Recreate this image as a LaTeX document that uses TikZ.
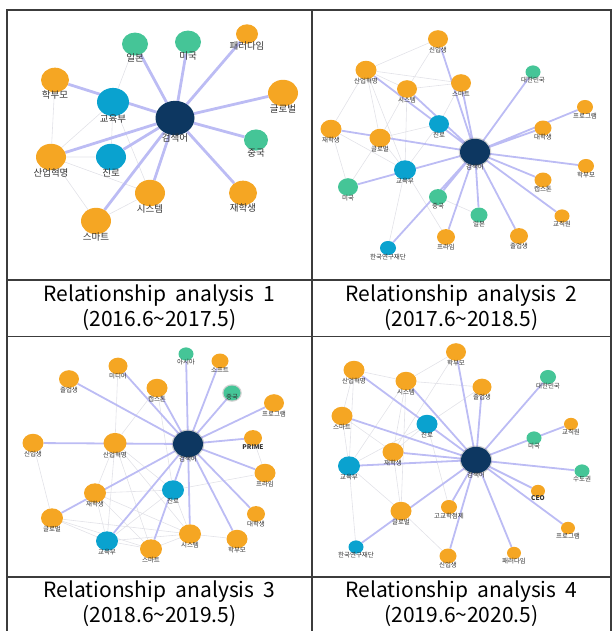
\documentclass[tikz,border=0pt]{standalone}
\usepackage{fontspec}
\setmainfont{Noto Sans CJK KR}
\usetikzlibrary{shapes.geometric,backgrounds}
\definecolor{kworange}{HTML}{F5A623}
\definecolor{kwgreen}{HTML}{45C597}
\definecolor{kwblue}{HTML}{0AA2CF}
\definecolor{kwnavy}{HTML}{0D3761}
\definecolor{edgehi}{HTML}{BCBCF4}
\definecolor{edgelo}{HTML}{E2E2E8}
\definecolor{gridline}{HTML}{3C3C3C}
\begin{document}
\begin{tikzpicture}[x=1pt,y=-1pt,
		kw/.style={ellipse,minimum width=#1,minimum height={0.88*#1},inner sep=0pt},
		okw/.style={kw=#1,fill=kworange},
		gkw/.style={kw=#1,fill=kwgreen},
		bkw/.style={kw=#1,fill=kwblue},
		hub/.style={kw=#1,fill=kwnavy},
		glow/.style={preaction={draw=black,line width=2.5pt,opacity=0.18}},
		strong/.style={draw=edgehi,line width=1.8pt},
		weak/.style={draw=edgelo,line width=0.6pt},
		label distance=-1.5pt,
		every label/.style={inner sep=0pt,text=black!80,font=\fontsize{6.5}{7}\selectfont},
		caption/.style={align=center,font=\fontsize{21}{25}\selectfont}]
		\useasboundingbox (0,0) rectangle (612,631);
		% table
		\draw[gridline,line width=1.1pt] (7,631)--(7,10)--(611,10)--(611,631);
		\draw[gridline,line width=1.1pt] (312,10)--(312,631);
		\draw[gridline,line width=1.1pt] (7,280)--(611,280) (7,336.5)--(611,336.5) (7,577)--(611,577);
		\node[caption] (cap1) at (159.5,308) {Relationship\ \ analysis\ \ 1\\(2016.6\textasciitilde 2017.5)};
		\node[caption] (cap2) at (461.5,308) {Relationship\ \ analysis\ \ 2\\(2017.6\textasciitilde 2018.5)};
		\node[caption] (cap3) at (159.5,604) {Relationship\ \ analysis\ \ 3\\(2018.6\textasciitilde 2019.5)};
		\node[caption] (cap4) at (461.5,604) {Relationship\ \ analysis\ \ 4\\(2019.6\textasciitilde 2020.5)};
		% 1
		\begin{scope}[every label/.append style={font=\fontsize{9.5}{10}\selectfont},label distance=-2pt]
		\node[hub=39,label=below:검색어] (p1hub) at (175,118) {};
		\node[gkw=26,label=below:일본] (p1japan) at (135,44) {};
		\node[gkw=26,label=below:미국] (p1usa) at (188,42) {};
		\node[okw=22,label=below:패러다임] (p1paradigm) at (247,34) {};
		\node[okw=28,label=below:학부모] (p1parents) at (55,80) {};
		\node[bkw=32,label=below:교육부] (p1moe) at (113,102) {};
		\node[okw=30,label=below:글로벌] (p1global) at (283,93) {};
		\node[gkw=24,label=below:중국] (p1china) at (256,140) {};
		\node[okw=30,label=below:산업혁명] (p1industry) at (51,157) {};
		\node[bkw=30,label=below:진로] (p1career) at (111,157) {};
		\node[okw=30,label=below:시스템] (p1system) at (150,193) {};
		\node[okw=28,label=below:재학생] (p1student) at (243,193) {};
		\node[okw=30,label=below:스마트] (p1smart) at (96,221) {};
		\end{scope}
		\begin{scope}[on background layer]
		\draw[weak] (p1japan)--(p1moe) (p1parents)--(p1industry) (p1moe)--(p1industry) (p1moe)--(p1career)
		(p1moe)--(p1system) (p1industry)--(p1career) (p1industry)--(p1system) (p1industry)--(p1smart) (p1smart)--(p1system);
		\draw[strong,line width=2.8pt] (p1hub)--(p1japan) (p1hub)--(p1usa) (p1hub)--(p1paradigm) (p1hub)--(p1global)
		(p1hub)--(p1china) (p1hub)--(p1student) (p1hub)--(p1system) (p1hub)--(p1smart) (p1hub)--(p1career)
		(p1hub)--(p1industry) (p1hub)--(p1parents);
		\end{scope}
		% 2
		\node[hub=30,glow,label=below:검색어] (p2hub) at (475,152) {};
		\node[okw=20,label=below:신입생] (p2freshman) at (438,39) {};
		\node[okw=21,label=below:산업혁명] (p2industry) at (366,70) {};
		\node[okw=20,label=below:시스템] (p2system) at (407,89) {};
		\node[okw=20,label=below:스마트] (p2smart) at (461,83) {};
		\node[gkw=15,label=below:대한민국] (p2korea) at (533,72) {};
		\node[okw=16,label=below:프로그램] (p2program) at (585,107) {};
		\node[bkw=20,label=below:진로] (p2career) at (439,124) {};
		\node[okw=17,label=below:대학생] (p2univ) at (543,128) {};
		\node[okw=21,label=below:재학생] (p2student) at (331,129) {};
		\node[okw=21,label=below:글로벌] (p2global) at (380,138) {};
		\node[okw=16,label=below:학부모] (p2parents) at (586,166) {};
		\node[bkw=22,label=below:교육부] (p2moe) at (405,170) {};
		\node[okw=17,label=below:캡스톤] (p2capstone) at (543,180) {};
		\node[gkw=20,label=below:미국] (p2usa) at (348,187) {};
		\node[gkw=18,label=below:중국] (p2china) at (438,197) {};
		\node[okw=15,label=below:교직원] (p2staff) at (562,216) {};
		\node[gkw=17,label=below:일본] (p2japan) at (479,215) {};
		\node[okw=18,label=below:프라임] (p2prime) at (446,237) {};
		\node[okw=18,label=below:졸업생] (p2graduate) at (519,236) {};
		\node[bkw=16,label=below:한국연구재단] (p2nrf) at (388,248) {};
		\begin{scope}[on background layer]
		\draw[weak] (p2freshman)--(p2industry) (p2freshman)--(p2system) (p2industry)--(p2smart) (p2industry)--(p2system)
		(p2industry)--(p2student) (p2industry)--(p2global) (p2industry)--(p2moe) (p2system)--(p2smart)
		(p2system)--(p2global) (p2system)--(p2moe) (p2smart)--(p2career) (p2student)--(p2usa) (p2student)--(p2moe)
		(p2global)--(p2usa) (p2global)--(p2career) (p2global)--(p2moe) (p2moe)--(p2career) (p2moe)--(p2nrf)
		(p2moe)--(p2prime) (p2china)--(p2japan);
		\draw[strong] (p2hub)--(p2freshman) (p2hub)--(p2smart) (p2hub)--(p2industry) (p2hub)--(p2system)
		(p2hub)--(p2korea) (p2hub)--(p2program) (p2hub)--(p2univ) (p2hub)--(p2parents) (p2hub)--(p2capstone)
		(p2hub)--(p2staff) (p2hub)--(p2graduate) (p2hub)--(p2japan) (p2hub)--(p2prime) (p2hub)--(p2china)
		(p2hub)--(p2student) (p2hub)--(p2nrf) (p2hub)--(p2usa);
		\end{scope}
		% 3
		\node[hub=30,glow,label=below:검색어] (p3hub) at (188,444) {};
		\node[gkw=15,label=below:아시아] (p3asia) at (186,354) {};
		\node[okw=17,label=below:소프트] (p3soft) at (220,361) {};
		\node[okw=19,label=below:미디어] (p3media) at (118,366) {};
		\node[okw=20,label=below:졸업생] (p3graduate) at (69,379) {};
		\node[okw=21,label=below:캡스톤] (p3capstone) at (157,388) {};
		\node[gkw=17,glow,label={[label distance=-6pt]below:중국}] (p3china) at (232,393) {};
		\node[okw=20,label=below:프로그램] (p3program) at (274,403) {};
		\node[okw=21,label=below:신입생] (p3freshman) at (33,443) {};
		\node[okw=23,label=below:산업혁명] (p3industry) at (115,443) {};
		\node[okw=18,label={[font=\fontsize{6.5}{7}\selectfont\bfseries]below:PRIME}] (p3prime) at (253,438) {};
		\node[okw=21,label=below:프라임] (p3primek) at (265,473) {};
		\node[bkw=22,label=below:진로] (p3career) at (173,490) {};
		\node[okw=22,label=below:재학생] (p3student) at (95,493) {};
		\node[okw=18,label=below:대학생] (p3univ) at (256,514) {};
		\node[okw=22,label=below:글로벌] (p3global) at (52,518) {};
		\node[okw=22,label=below:시스템] (p3system) at (190,534) {};
		\node[okw=21,label=below:학부모] (p3parents) at (237,539) {};
		\node[bkw=22,label=below:교육부] (p3moe) at (107,541) {};
		\node[okw=22,label=below:스마트] (p3smart) at (151,549) {};
		\begin{scope}[on background layer]
		\draw[weak] (p3media)--(p3industry) (p3capstone)--(p3industry) (p3capstone)--(p3career) (p3freshman)--(p3global)
		(p3industry)--(p3student) (p3industry)--(p3moe) (p3industry)--(p3smart) (p3industry)--(p3system)
		(p3industry)--(p3career) (p3student)--(p3moe) (p3student)--(p3smart) (p3student)--(p3system)
		(p3global)--(p3moe) (p3global)--(p3smart) (p3global)--(p3system) (p3moe)--(p3system) (p3moe)--(p3smart)
		(p3smart)--(p3system) (p3system)--(p3parents) (p3career)--(p3student) (p3career)--(p3primek)
		(p3prime)--(p3primek) (p3career)--(p3system) (p3career)--(p3moe);
		\draw[strong] (p3hub)--(p3asia) (p3hub)--(p3soft) (p3hub)--(p3media) (p3hub)--(p3graduate) (p3hub)--(p3capstone)
		(p3hub)--(p3china) (p3hub)--(p3program) (p3hub)--(p3prime) (p3hub)--(p3primek) (p3hub)--(p3univ)
		(p3hub)--(p3parents) (p3hub)--(p3system) (p3hub)--(p3smart) (p3hub)--(p3moe) (p3hub)--(p3global)
		(p3hub)--(p3freshman);
		\end{scope}
		% 4
		\node[hub=30,glow,label=below:검색어] (p4hub) at (476,460) {};
		\node[okw=20,label=below:학부모] (p4parents) at (456,352) {};
		\node[okw=21,label=below:산업혁명] (p4industry) at (354,370) {};
		\node[okw=21,label=below:시스템] (p4system) at (406,381) {};
		\node[okw=19,label=below:졸업생] (p4graduate) at (482,387) {};
		\node[gkw=16,label=below:대한민국] (p4korea) at (548,377) {};
		\node[okw=21,label=below:스마트] (p4smart) at (342,416) {};
		\node[bkw=21,label=below:진로] (p4career) at (427,424) {};
		\node[okw=14,label=below:교직원] (p4staff) at (571,424) {};
		\node[gkw=15,label=below:미국] (p4usa) at (534,438) {};
		\node[okw=21,label=below:재학생] (p4student) at (393,452) {};
		\node[bkw=22,label=below:교육부] (p4moe) at (349,466) {};
		\node[gkw=15,label=below:수도권] (p4capital) at (582,471) {};
		\node[okw=14,label={[font=\fontsize{6.5}{7}\selectfont\bfseries]below:CEO}] (p4ceo) at (538,491) {};
		\node[okw=16,label=below:고교학점제] (p4credit) at (449,507) {};
		\node[okw=21,label=below:글로벌] (p4global) at (401,511) {};
		\node[okw=14,label=below:프로그램] (p4program) at (568,528) {};
		\node[bkw=15,label=below:한국연구재단] (p4nrf) at (356,547) {};
		\node[okw=17,label=below:신입생] (p4freshman) at (448,556) {};
		\node[okw=14,label=below:패러다임] (p4paradigm) at (514,553) {};
		\begin{scope}[on background layer]
		\draw[weak] (p4industry)--(p4system) (p4industry)--(p4smart) (p4industry)--(p4moe) (p4system)--(p4parents)
		(p4system)--(p4graduate) (p4system)--(p4student) (p4system)--(p4moe) (p4system)--(p4global)
		(p4parents)--(p4student) (p4graduate)--(p4career) (p4smart)--(p4moe) (p4smart)--(p4student)
		(p4moe)--(p4career) (p4moe)--(p4global) (p4moe)--(p4nrf) (p4student)--(p4global) (p4student)--(p4career)
		(p4career)--(p4credit) (p4global)--(p4freshman);
		\draw[strong] (p4hub)--(p4parents) (p4hub)--(p4graduate) (p4hub)--(p4korea) (p4hub)--(p4staff)
		(p4hub)--(p4capital) (p4hub)--(p4ceo) (p4hub)--(p4program) (p4hub)--(p4paradigm) (p4hub)--(p4freshman)
		(p4hub)--(p4credit) (p4hub)--(p4nrf) (p4hub)--(p4moe) (p4hub)--(p4student) (p4hub)--(p4smart)
		(p4hub)--(p4system) (p4hub)--(p4industry);
		\end{scope}
	\end{tikzpicture}
\end{document}
